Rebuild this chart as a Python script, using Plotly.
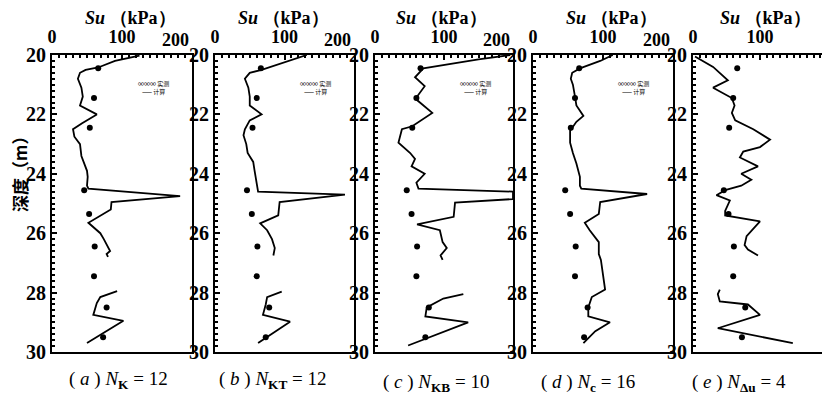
import plotly.graph_objects as go

# page is 830x397; body has an 8px margin, so the figure is 822x389 placed at (8, 8)
OFF = 8
W, H = 830 - OFF, 397 - OFF

# ---------------- data ----------------
# measured points (shared by all panels)
meas_depth = [20.45, 21.45, 22.45, 24.55, 25.35, 26.45, 27.45, 28.5, 29.5]
meas_su = [66, 60, 54, 46, 53, 61, 60, 78, 73]

# (a) N_K = 12
a_depth_1 = [20.02, 20.2, 20.42, 20.5, 20.6, 20.8, 21.1, 21.4, 21.7, 22.0, 22.3, 22.5, 22.75, 23.0, 23.4, 23.7,
             23.9, 24.1, 24.4, 24.5, 24.75, 24.95, 25.2, 25.65, 26.0, 26.2, 26.4, 26.6, 26.7, 26.8]
a_su_1 = [125, 90, 66, 48, 40, 37, 42, 44, 40, 64, 43, 30, 32, 40, 42, 47,
          50, 51, 50, 52, 183, 85, 84, 52, 69, 74, 78, 83, 78, 80]
a_depth_2 = [27.95, 28.15, 28.35, 28.6, 28.75, 28.95, 29.7]
a_su_2 = [93, 69, 64, 61, 59, 102, 50]

# (b) N_KT = 12
b_depth_1 = [20.0, 20.5, 20.6, 20.8, 21.1, 21.4, 21.7, 22.0, 22.2, 22.5, 22.7, 23.0, 23.3, 23.6, 23.9, 24.3,
             24.6, 24.7, 24.95, 25.4, 25.67, 25.9, 26.2, 26.5, 26.75]
b_su_1 = [132, 67, 50, 43, 48, 50, 50, 67, 50, 43, 41, 45, 47, 55, 57, 60,
          62, 187, 93, 91, 65, 75, 82, 86, 84]
b_depth_2 = [27.97, 28.15, 28.4, 28.75, 28.98, 29.7]
b_su_2 = [96, 75, 73, 69, 108, 62]

# (c) N_KB = 10
c_depth_1 = [20.0, 20.15, 20.45, 20.75, 21.05, 21.4, 21.5, 21.95, 22.4, 22.5, 22.95, 23.3, 23.5, 23.75, 24.0,
             24.3, 24.5, 24.6, 24.85, 24.97, 25.45, 25.7, 25.9, 26.3, 26.5, 26.75, 26.9]
c_su_1 = [196, 150, 70, 58, 72, 61, 60, 83, 54, 39, 34, 51, 58, 53, 72,
          60, 63, 200, 200, 116, 114, 61, 94, 98, 104, 95, 98]
c_depth_2 = [28.05, 28.2, 28.5, 28.8, 29.0, 29.78]
c_su_2 = [128, 99, 75, 73, 135, 48]

# (d) N_c = 16
d_depth = [20.0, 20.2, 20.45, 20.6, 20.8, 21.0, 21.4, 21.7, 22.05, 22.25, 22.55, 22.95, 23.3, 23.65, 24.1, 24.4,
           24.5, 24.68, 24.95, 25.35, 25.65, 25.9, 26.3, 26.7, 26.9, 27.35, 27.9, 28.15, 28.5, 28.8, 29.0,
           29.3, 29.7]
d_su = [114, 96, 67, 56, 54, 57, 60, 62, 72, 62, 53, 53, 57, 62, 67, 67,
        69, 163, 96, 94, 74, 81, 94, 94, 97, 100, 103, 84, 79, 79, 110,
        89, 72]

# (e) N_Δu = 4
e_depth_1 = [20.05, 20.4, 20.85, 21.1, 21.45, 21.7, 21.95, 22.2, 22.5, 22.85, 23.1, 23.25, 23.45, 23.75, 24.0,
             24.2, 24.4, 24.55, 24.72, 24.9, 25.25, 25.4, 25.6, 26.1, 26.4, 26.55, 26.75]
e_su_1 = [3, 30, 52, 30, 58, 62, 58, 63, 90, 115, 100, 75, 70, 97, 72,
          87, 72, 48, 35, 55, 48, 48, 100, 80, 77, 82, 97]
e_depth_2 = [27.9, 28.05, 28.3, 28.4, 28.75, 29.2, 29.7]
e_su_2 = [40, 37, 40, 82, 100, 37, 149]

x_end_label = "200"
captions = ["( <i>a</i> ) <i>N</i><sub><b>K</b></sub> = 12",
            "( <i>b</i> ) <i>N</i><sub><b>KT</b></sub> = 12",
            "( <i>c</i> ) <i>N</i><sub><b>KB</b></sub> = 10",
            "( <i>d</i> ) <i>N</i><sub><b>c</b></sub> = 16",
            "( <i>e</i> ) <i>N</i><sub><b>Δu</b></sub> = 4"]
panel_title = "<b><i>Su</i> （kPa）</b>"
y_title = "<b>深度（m）</b>"
legend_text = "∞∞∞ 实测<br>—— 计算"

# ---------------- layout helpers (page pixel -> paper) ----------------
def px(x):
    return (x - OFF) / W

def py(y):
    return 1 - (y - OFF) / H

x_dom_px = [(52, 192), (215, 354), (375, 513), (533, 673), (693, 827)]
y_dom = [py(352), py(55)]

lines = [
    [(a_su_1, a_depth_1), (a_su_2, a_depth_2)],
    [(b_su_1, b_depth_1), (b_su_2, b_depth_2)],
    [(c_su_1, c_depth_1), (c_su_2, c_depth_2)],
    [(d_su, d_depth)],
    [(e_su_1, e_depth_1), (e_su_2, e_depth_2)],
]

fig = go.Figure()
tickfont = dict(family="Liberation Serif", size=18, color="black", weight="bold")
ytickfont = dict(family="Liberation Serif", size=20, color="black", weight="bold")
annotations = []

for i in range(5):
    n = "" if i == 0 else str(i + 1)
    for (xs, ys) in lines[i]:
        fig.add_trace(go.Scatter(x=xs, y=ys, mode="lines", xaxis="x" + n, yaxis="y" + n,
                                 line=dict(color="black", width=1.8), showlegend=False))
    fig.add_trace(go.Scatter(x=meas_su, y=meas_depth, mode="markers", xaxis="x" + n, yaxis="y" + n,
                             marker=dict(color="black", size=6), showlegend=False))
    last = i == 4
    fig.layout["xaxis" + n] = dict(
        domain=[px(x_dom_px[i][0]), px(x_dom_px[i][1])], anchor="y" + n, side="top",
        range=[0, 200], tickmode="linear", tick0=0, dtick=100,
        labelalias={200: ""}, automargin=False,
        showgrid=False, zeroline=False, showline=True, linecolor="black", linewidth=2.2,
        mirror=True, ticks="inside", ticklen=5, tickwidth=2, tickcolor="black",
        minor=dict(dtick=10, ticks="inside", ticklen=3, tickwidth=1.5, tickcolor="black", showgrid=False),
        tickfont=tickfont, ticklabelstandoff=3,
    )
    fig.layout["yaxis" + n] = dict(
        domain=y_dom, anchor="x" + n, range=[30, 20], tickmode="linear", tick0=20, dtick=2,
        automargin=False,
        showgrid=False, zeroline=False, showline=True, linecolor="black", linewidth=2.2,
        mirror=not last, ticks="inside", ticklen=5, tickwidth=2, tickcolor="black",
        minor=dict(dtick=0.2, ticks="inside", ticklen=3, tickwidth=1.5, tickcolor="black", showgrid=False),
        tickfont=ytickfont, ticklabelstandoff=0,
    )
    if not last:
        # the "200" label sits just left of the panel's right edge
        annotations.append(dict(x=200, y=20, xref="x" + n, yref="y" + n, text=x_end_label,
                                showarrow=False, xanchor="right", yanchor="bottom", yshift=3, xshift=-1,
                                font=tickfont))

title_cx = [130, 283, 441, 611, 765]
for cx in title_cx:
    annotations.append(dict(x=px(cx), y=py(18), xref="paper", yref="paper", text=panel_title,
                            showarrow=False, xanchor="center", yanchor="middle",
                            font=dict(family="Liberation Serif", size=18, color="black")))
cap_cx = [118, 273, 436, 588, 739]
cap_cy = [380, 380, 383, 383, 383]
for cx, cy, t in zip(cap_cx, cap_cy, captions):
    annotations.append(dict(x=px(cx), y=py(cy), xref="paper", yref="paper", text=t,
                            showarrow=False, xanchor="center", yanchor="middle",
                            font=dict(family="Liberation Serif", size=19, color="black")))
leg_cx = [153, 315, 475, 633]
for cx in leg_cx:
    annotations.append(dict(x=px(cx), y=py(87), xref="paper", yref="paper", text=legend_text,
                            showarrow=False, xanchor="center", yanchor="middle",
                            font=dict(family="Noto Sans CJK SC", size=6, color="black")))
annotations.append(dict(x=px(19), y=py(170), xref="paper", yref="paper", text=y_title, textangle=-90,
                        showarrow=False, xanchor="center", yanchor="middle",
                        font=dict(family="Noto Sans CJK SC", size=17, color="black")))

fig.update_layout(width=W, height=H, margin=dict(l=0, r=0, t=0, b=0),
                  paper_bgcolor="white", plot_bgcolor="white", annotations=annotations,
                  showlegend=False)

fig.write_html("out.html")
